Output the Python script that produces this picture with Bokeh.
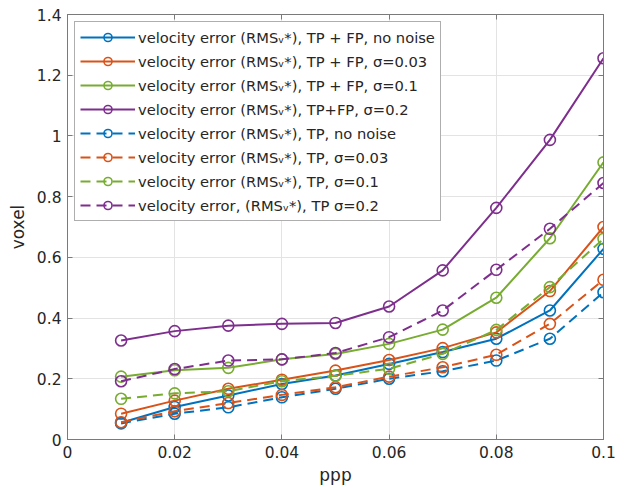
from bokeh.plotting import figure
from bokeh.models import Legend, LegendItem, LinearAxis, FixedTicker, Range1d
from bokeh.embed import file_html
from bokeh.resources import INLINE

# ---- data ----
ppp = [0.01, 0.02, 0.03, 0.04, 0.05, 0.06, 0.07, 0.08, 0.09, 0.10]

tpfp_nonoise = [0.055, 0.107, 0.145, 0.183, 0.211, 0.249, 0.288, 0.332, 0.425, 0.628]
tpfp_s003    = [0.085, 0.128, 0.167, 0.197, 0.227, 0.262, 0.301, 0.353, 0.489, 0.700]
tpfp_s01     = [0.207, 0.228, 0.236, 0.264, 0.282, 0.315, 0.362, 0.467, 0.663, 0.913]
tpfp_s02     = [0.326, 0.357, 0.375, 0.381, 0.384, 0.438, 0.557, 0.763, 0.987, 1.256]
tp_nonoise   = [0.053, 0.085, 0.106, 0.139, 0.167, 0.200, 0.225, 0.260, 0.332, 0.485]
tp_s003      = [0.057, 0.093, 0.120, 0.147, 0.172, 0.207, 0.238, 0.279, 0.381, 0.526]
tp_s01       = [0.134, 0.152, 0.159, 0.192, 0.210, 0.233, 0.282, 0.361, 0.502, 0.661]
tp_s02       = [0.192, 0.232, 0.260, 0.264, 0.285, 0.337, 0.425, 0.559, 0.694, 0.845]

labels = [
    "velocity error (RMS\u1d65*), TP + FP, no noise",
    "velocity error (RMS\u1d65*), TP + FP, \u03c3=0.03",
    "velocity error (RMS\u1d65*), TP + FP, \u03c3=0.1",
    "velocity error (RMS\u1d65*), TP+FP, \u03c3=0.2",
    "velocity error (RMS\u1d65*), TP, no noise",
    "velocity error (RMS\u1d65*), TP, \u03c3=0.03",
    "velocity error (RMS\u1d65*), TP, \u03c3=0.1",
    "velocity error, (RMS\u1d65*), TP \u03c3=0.2",
]
series = [tpfp_nonoise, tpfp_s003, tpfp_s01, tpfp_s02, tp_nonoise, tp_s003, tp_s01, tp_s02]
colors = ["#0072BD", "#D95319", "#77AC30", "#7E2F8E"] * 2
dashes = ["solid"] * 4 + ["10 6"] * 4

x_ticks = [0, 0.02, 0.04, 0.06, 0.08, 0.1]
x_tick_labels = ["0", "0.02", "0.04", "0.06", "0.08", "0.1"]
y_ticks = [0, 0.2, 0.4, 0.6, 0.8, 1.0, 1.2, 1.4]
y_tick_labels = ["0", "0.2", "0.4", "0.6", "0.8", "1", "1.2", "1.4"]

FONT = "DejaVu Sans"
TXT = "#262626"
AX = "#7a7a7a"

p = figure(width=630, height=488, output_backend="svg", toolbar_location=None,
           x_range=Range1d(0, 0.1), y_range=Range1d(0, 1.4),
           min_border_left=67, min_border_right=27, min_border_top=14, min_border_bottom=49,
           x_axis_label="ppp", y_axis_label="voxel")
p.background_fill_color = "white"
p.border_fill_color = "white"
p.outline_line_color = AX
p.outline_line_width = 1

def style_axis(ax, ticks, tlabels, show_labels=True):
    ax.ticker = FixedTicker(ticks=ticks)
    ax.major_label_overrides = {t: l for t, l in zip(ticks, tlabels)}
    ax.major_tick_in = 5
    ax.major_tick_out = 0
    ax.minor_tick_line_color = None
    ax.axis_line_color = AX
    ax.major_tick_line_color = AX
    ax.major_label_text_font = FONT
    ax.major_label_text_color = TXT
    ax.axis_label_text_font = FONT
    ax.axis_label_text_color = TXT
    ax.axis_label_text_font_style = "normal"
    ax.axis_label_text_font_size = "17px"
    ax.major_label_text_font_size = "15.5px" if show_labels else "0px"

style_axis(p.xaxis[0], x_ticks, x_tick_labels)
style_axis(p.yaxis[0], y_ticks, y_tick_labels)
p.xaxis[0].major_label_standoff = 6
p.xaxis[0].axis_label_standoff = 4
p.yaxis[0].major_label_standoff = 6
p.yaxis[0].axis_label_standoff = 6

top = LinearAxis()
style_axis(top, x_ticks, ["" for _ in x_ticks], show_labels=False)
top.major_label_standoff = 0
right = LinearAxis()
style_axis(right, y_ticks, ["" for _ in y_ticks], show_labels=False)
right.major_label_standoff = 0
p.add_layout(top, "above")
p.add_layout(right, "right")

p.xgrid.ticker = FixedTicker(ticks=x_ticks)
p.ygrid.ticker = FixedTicker(ticks=y_ticks)
p.grid.grid_line_color = "#e3e3e3"
p.grid.grid_line_width = 1

items = []
for vals, lab, col, dash in zip(series, labels, colors, dashes):
    lr = p.line(ppp, vals, line_color=col, line_width=2, line_dash=dash)
    sr = p.scatter(ppp, vals, marker="circle", size=11, fill_color=None,
                   line_color=col, line_width=1.6)
    items.append(LegendItem(label=lab, renderers=[lr, sr]))

legend = Legend(items=items, location="top_left", margin=7, padding=5,
                spacing=4, label_height=20, glyph_height=20, glyph_width=55,
                label_standoff=3, label_text_font=FONT, label_text_font_size="14.7px",
                label_text_color=TXT, border_line_color="#5e5e5e", border_line_width=1,
                background_fill_color="white", background_fill_alpha=1)
p.add_layout(legend, "center")

open("out.html", "w").write(file_html(p, INLINE))
